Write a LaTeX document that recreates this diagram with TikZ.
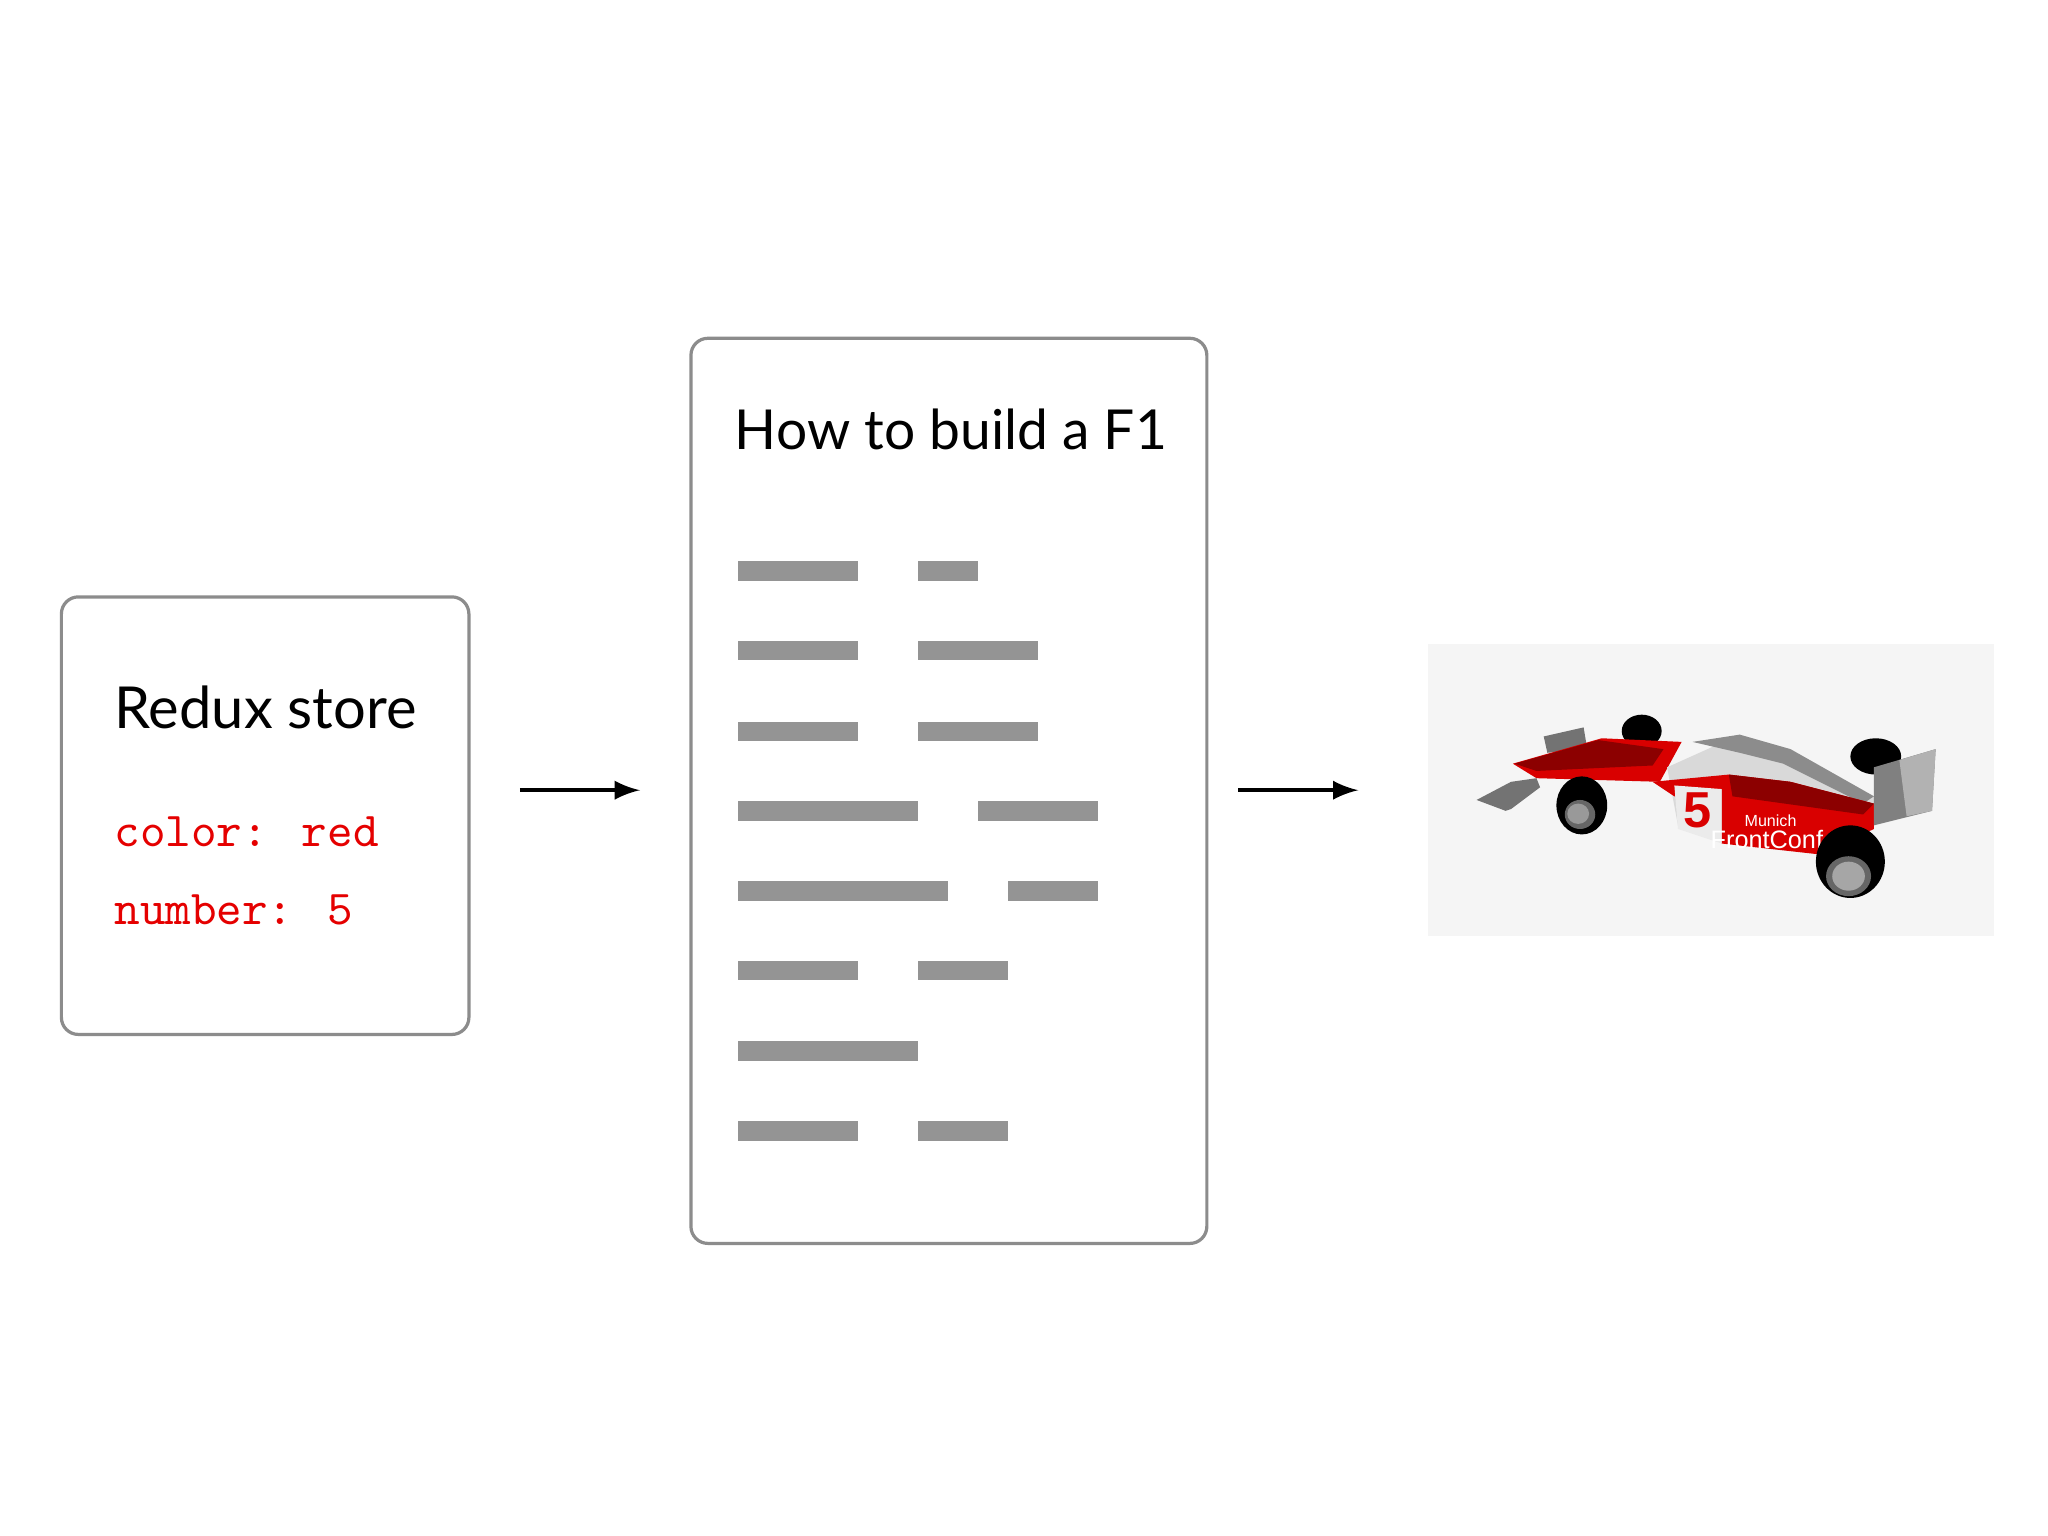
\documentclass[tikz,border=0pt]{standalone}
\usepackage{fontspec}
\setmainfont{Lato}
\newfontfamily\carfont{Liberation Sans}
\begin{document}
\begin{tikzpicture}[x=0.01cm,y=-0.01cm,
  card/.style={draw=black!45,line width=0.7pt,rounded corners=0.13cm,fill=white},
  bar/.style={fill=black!42,draw=none},
  arr/.style={-latex,line width=0.9pt},
  code/.style={text=red!90!black,font=\ttfamily\fontsize{10.6}{13}\selectfont,anchor=west,inner sep=0pt}]
\useasboundingbox (0,0) rectangle (1568,1176);
\fill[white] (0,0) rectangle (1568,1176);
\draw[card] (47,457) rectangle (359,792);
\node[anchor=west,inner sep=0pt,font=\fontsize{12.6}{15}\selectfont] (t1) at (87,542) {Redux store};
\node[code] (c1) at (87,637) {color: red};
\node[code] (c2) at (87,697) {number: 5};
\draw[card] (529,259) rectangle (924,952);
\node[anchor=west,inner sep=0pt,font=\fontsize{12}{15}\selectfont] (t2) at (562,329) {How to build a F1};
\foreach \y/\a/\b/\c/\d in {437/565/657/703/749, 498/565/657/703/795, 560/565/657/703/795, 621/565/703/749/841, 682/565/726/772/841, 743/565/657/703/772, 866/565/657/703/772}{
  \fill[bar] (\a,\y-7.5) rectangle (\b,\y+7.5);
  \fill[bar] (\c,\y-7.5) rectangle (\d,\y+7.5);}
\fill[bar] (565,797) rectangle (703,812);
\coordinate (a1) at (398,605); \coordinate (a2) at (490,605);
\coordinate (b1) at (948,605); \coordinate (b2) at (1040,605);
\draw[arr] (a1) -- (a2);
\draw[arr] (b1) -- (b2);
\fill[black!4] (1093,493) rectangle (1527,717);
\begin{scope}[shift={(1093,493)},x=0.002783cm,y=-0.002783cm]
 \fill[black] (590,240) ellipse (55 and 45);
 \fill[black] (1235,310) ellipse (70 and 50);
 \fill[black!55] (320,255) -- (430,230) -- (440,290) -- (330,300) -- cycle;
 \fill[black!55] (135,430) -- (230,380) -- (300,370) -- (310,395) -- (230,455) -- (215,460) -- cycle;
 \fill[red!85!black] (235,330) -- (480,260) -- (700,270) -- (640,380) -- (300,370) -- cycle;
 \fill[red!55!black] (240,330) -- (470,265) -- (650,290) -- (620,335) -- (300,350) -- cycle;
 \fill[black!15] (660,340) -- (860,250) -- (1000,290) -- (1230,420) -- (1230,500) -- (820,520) -- (690,500) -- cycle;
 \fill[black!45] (730,270) -- (860,250) -- (1000,290) -- (1230,420) -- (1200,440) -- (980,330) -- (860,300) -- cycle;
 \fill[red!85!black] (620,380) -- (830,360) -- (1000,380) -- (1230,440) -- (1230,510) -- (1080,580) -- (810,550) -- (810,400) -- (680,420) -- cycle;
 \fill[red!55!black] (830,360) -- (1000,380) -- (1230,440) -- (1200,470) -- (840,420) -- cycle;
 \fill[black!8] (680,390) -- (810,400) -- (810,550) -- (690,510) -- cycle;
 \node[text=red!85!black,font=\carfont\bfseries\fontsize{11}{11}\selectfont] (n5) at (745,460) {5};
 \node[text=white,font=\carfont\fontsize{3.5}{3.5}\selectfont] (m1) at (945,487) {Munich};
 \node[text=white,font=\carfont\fontsize{5.5}{5.5}\selectfont] (m2) at (935,540) {FrontConf};
 \fill[black!50] (1230,340) -- (1400,290) -- (1390,460) -- (1230,500) -- cycle;
 \fill[black!30] (1300,320) -- (1400,290) -- (1390,460) -- (1320,475) -- cycle;
 \fill[black] (425,445) ellipse (70 and 80);
 \fill[black!60] (420,470) ellipse (42 and 40);
 \fill[black!40] (415,468) ellipse (30 and 28);
 \fill[black] (1165,600) ellipse (95 and 100);
 \fill[black!60] (1160,640) ellipse (62 and 55);
 \fill[black!35] (1160,640) ellipse (45 and 40);
\end{scope}
\end{tikzpicture}
\end{document}
